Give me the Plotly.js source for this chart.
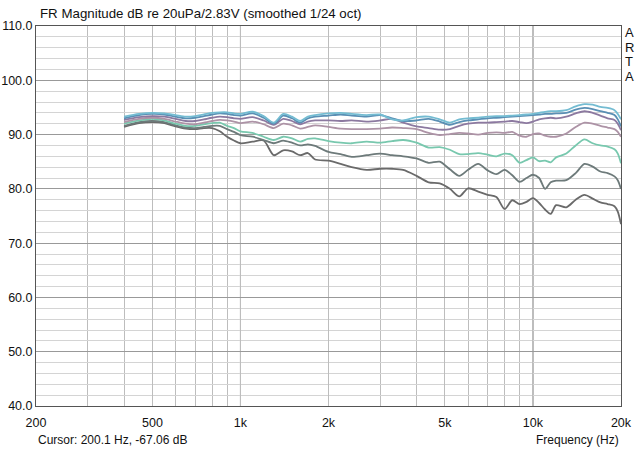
<!DOCTYPE html>
<html>
<head>
<meta charset="utf-8">
<script src="https://cdn.plot.ly/plotly-3.0.1.min.js"></script>
<style>html,body{margin:0;padding:0;background:#fff;}#chart{width:639px;height:454px;}</style>
</head>
<body>
<div id="chart"></div>
<script>
// Frequencies (Hz)
var freq = [400, 450, 500, 550, 600, 650, 700, 750, 800, 850, 900, 950, 1000, 1100, 1200, 1300, 1400, 1500, 1600, 1700, 1800, 2000, 2200, 2400, 2700, 3000, 3300, 3600, 4000, 4400, 4800, 5200, 5600, 6000, 6500, 7000, 7500, 8000, 8500, 9000, 9500, 10000, 10500, 11000, 11500, 12000, 13000, 14000, 15000, 16000, 17000, 18000, 19000, 19500, 20000];

// Magnitude (dB) per curve
var curve1 = [93.3, 93.8, 94.0, 93.9, 93.6, 93.3, 93.4, 93.7, 94.0, 94.1, 94.1, 93.9, 93.8, 94.2, 93.4, 92.2, 93.8, 93.3, 92.5, 93.3, 93.6, 93.9, 94.0, 93.8, 93.6, 93.7, 92.8, 92.6, 93.2, 93.3, 92.8, 92.2, 92.8, 93.0, 93.1, 93.3, 93.4, 93.4, 93.5, 93.6, 93.7, 93.8, 94.0, 94.2, 94.3, 94.3, 94.5, 95.2, 95.6, 95.5, 95.1, 94.9, 94.5, 93.8, 92.8];
var curve2 = [93.0, 93.6, 93.8, 93.7, 93.3, 93.0, 93.1, 93.4, 93.7, 93.9, 93.8, 93.6, 93.5, 93.9, 93.1, 92.0, 93.5, 93.0, 92.2, 93.0, 93.3, 93.5, 93.7, 93.5, 93.3, 93.6, 93.0, 92.5, 92.6, 92.9, 92.4, 91.8, 92.3, 92.6, 92.8, 93.0, 93.1, 93.2, 93.3, 93.4, 93.5, 93.6, 93.7, 93.8, 93.8, 93.9, 94.0, 94.6, 94.9, 94.7, 94.3, 94.0, 93.6, 92.8, 91.5];
var curve3 = [92.7, 93.2, 93.4, 93.3, 92.9, 92.5, 92.5, 92.8, 93.1, 93.3, 93.2, 93.0, 92.9, 93.2, 92.6, 91.8, 92.9, 92.5, 91.9, 92.4, 92.6, 92.6, 92.5, 92.6, 92.4, 92.6, 92.9, 92.2, 91.5, 91.2, 90.9, 91.0, 91.6, 92.0, 92.2, 92.2, 92.3, 92.4, 92.5, 92.3, 92.1, 92.4, 92.8, 93.0, 93.1, 93.0, 93.3, 93.9, 94.3, 94.0, 93.5, 93.0, 92.7, 92.0, 90.8];
var curve4 = [92.3, 92.9, 93.1, 92.9, 92.4, 92.0, 91.9, 92.2, 92.5, 92.7, 92.6, 92.4, 92.1, 92.4, 91.9, 91.2, 92.0, 91.7, 91.1, 91.4, 91.7, 91.4, 91.1, 91.0, 91.0, 91.1, 91.3, 91.2, 91.0, 90.3, 89.9, 90.1, 90.3, 90.2, 90.0, 90.3, 90.4, 90.3, 90.5, 89.8, 89.6, 90.1, 90.2, 89.8, 89.6, 89.6, 90.2, 91.4, 92.2, 92.0, 91.6, 91.3, 91.0, 90.5, 89.6];
var curve5 = [92.0, 92.6, 92.9, 92.6, 92.0, 91.6, 91.6, 91.9, 92.1, 92.2, 91.6, 91.2, 90.6, 90.3, 89.6, 89.0, 89.6, 89.3, 88.7, 89.2, 89.3, 88.8, 88.5, 88.4, 88.7, 88.5, 88.8, 89.0, 88.5, 87.6, 87.7, 87.2, 86.4, 86.4, 86.6, 86.3, 86.0, 86.5, 86.2, 84.8, 85.3, 85.8, 85.1, 85.2, 84.9, 85.8, 86.5, 88.0, 89.1, 88.4, 88.0, 87.8, 87.3, 86.5, 84.7];
var curve6 = [91.6, 92.3, 92.5, 92.3, 91.7, 91.3, 91.2, 91.4, 91.6, 91.6, 91.0, 90.5, 89.9, 89.6, 89.0, 88.4, 88.9, 88.5, 88.0, 88.2, 87.9, 86.8, 86.4, 85.9, 86.2, 86.5, 86.2, 86.0, 85.6, 84.8, 85.0, 83.6, 82.4, 83.5, 84.6, 83.4, 82.7, 83.5, 82.5, 81.3, 82.0, 82.6, 82.0, 80.0, 81.2, 81.5, 81.6, 82.9, 84.6, 84.1, 83.2, 82.9, 82.3, 81.6, 80.0];
var curve7 = [91.4, 92.1, 92.3, 92.1, 91.5, 91.1, 91.0, 91.2, 91.2, 90.6, 89.6, 88.9, 88.4, 88.7, 88.9, 86.2, 87.1, 86.9, 86.2, 86.6, 85.4, 85.2, 84.6, 84.0, 83.5, 83.7, 83.7, 83.5, 82.4, 81.2, 81.0, 80.0, 78.6, 80.1, 79.5, 78.9, 78.5, 76.3, 77.9, 77.2, 77.6, 78.3, 77.4, 76.2, 75.4, 77.0, 76.6, 78.0, 78.9, 78.2, 77.5, 77.2, 76.8, 75.8, 73.5];

var curves = [curve1, curve2, curve3, curve4, curve5, curve6, curve7];
var colors = ['#74bcd2', '#5a8fb4', '#8c79a0', '#ad93a6', '#78c8ae', '#6d7a7a', '#6a6a6a'];

// Axis ticks
var xTickVals = [200, 500, 1000, 2000, 5000, 10000, 20000];
var xTickText = ['200', '500', '1k', '2k', '5k', '10k', '20k'];
var xMinorVals = [300, 400, 600, 700, 800, 900, 3000, 4000, 6000, 7000, 8000, 9000];
var xDecadeVals = [1000, 10000];
var yMajorVals = [40, 50, 60, 70, 80, 90, 100, 110];
var artaLetters = ['A', 'R', 'T', 'A'];

var traces = curves.map(function (c, i) {
  return {
    x: freq, y: c, type: 'scatter', mode: 'lines',
    line: {color: colors[i], width: 1.8, shape: 'spline', smoothing: 0.8},
    hoverinfo: 'skip', showlegend: false
  };
});
traces.reverse();

var shapes = xDecadeVals.map(function (v) {
  return {type: 'line', xref: 'x', yref: 'paper', x0: v, x1: v, y0: 0, y1: 1,
          line: {color: '#6a6a6a', width: 1}, layer: 'below'};
});

var font = 'Liberation Sans, Arial, sans-serif';
var annotations = [
  {text: 'FR Magnitude dB re 20uPa/2.83V (smoothed 1/24 oct)', xref: 'paper', yref: 'paper',
   x: 0.003, y: 1.032, xanchor: 'left', yanchor: 'middle', showarrow: false,
   font: {family: font, size: 13.3, color: '#111'}},
  {text: 'Cursor: 200.1 Hz, -67.06 dB', xref: 'paper', yref: 'paper', x: 0.0, y: -0.0895,
   xanchor: 'left', yanchor: 'middle', showarrow: false,
   font: {family: font, size: 12, color: '#111'}},
  {text: 'Frequency (Hz)', xref: 'paper', yref: 'paper', x: 1.0, y: -0.0895,
   xanchor: 'right', yanchor: 'middle', showarrow: false,
   font: {family: font, size: 12, color: '#111'}}
];
artaLetters.forEach(function (ch, i) {
  annotations.push({text: ch, xref: 'paper', yref: 'paper', x: 1.0137,
    y: (406 - (32.5 + i * 14.7)) / 380, xanchor: 'center', yanchor: 'middle',
    showarrow: false, font: {family: font, size: 13, color: '#111'}});
});

var layout = {
  width: 639, height: 454,
  margin: {l: 36, r: 18, t: 26, b: 48},
  paper_bgcolor: '#ffffff', plot_bgcolor: '#ffffff',
  font: {family: font, size: 12, color: '#111'},
  showlegend: false,
  xaxis: {
    type: 'log', range: [Math.log10(200), Math.log10(20000)],
    tickmode: 'array', tickvals: xTickVals, ticktext: xTickText,
    ticks: '', ticklabelstandoff: 5, showgrid: true, gridcolor: '#bdbdbd', gridwidth: 1,
    minor: {tickmode: 'array', tickvals: xMinorVals, showgrid: true, gridcolor: '#bdbdbd', gridwidth: 1, ticks: ''},
    showline: true, linecolor: '#555', linewidth: 1, mirror: true,
    zeroline: false, tickfont: {family: font, size: 12.5, color: '#111'}
  },
  yaxis: {
    range: [40, 110], tickmode: 'array', tickvals: yMajorVals, tickformat: '.1f',
    ticks: '', showgrid: true, gridcolor: '#999999', gridwidth: 1,
    minor: {dtick: 2, showgrid: true, gridcolor: '#d4d4d4', gridwidth: 1, ticks: ''},
    showline: true, linecolor: '#555', linewidth: 1, mirror: true,
    zeroline: false, tickfont: {family: font, size: 12.5, color: '#111'}
  },
  shapes: shapes,
  annotations: annotations
};

Plotly.newPlot('chart', traces, layout, {displayModeBar: false, staticPlot: true});
</script>
</body>
</html>
